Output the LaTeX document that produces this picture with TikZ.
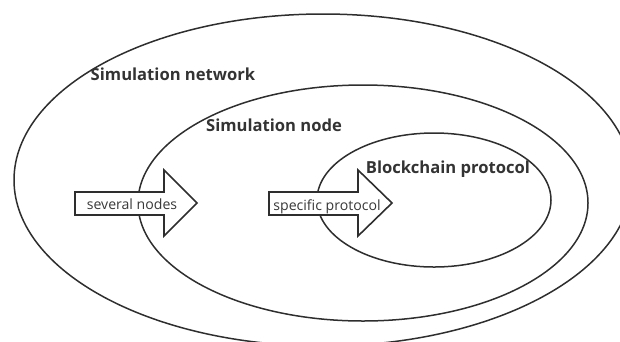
\documentclass[tikz,border=0pt]{standalone}
\usepackage{fontspec}
\setmainfont{Open Sans}
\begin{document}
\begin{tikzpicture}[x=1pt,y=-1pt,
  ring/.style={draw=black!82, line width=1.5pt},
  bigarrow/.style={draw=black!82, fill=white, line width=1.6pt, line join=miter},
  title/.style={font=\fontsize{16.6}{18}\selectfont\bfseries, text=black!80, inner sep=0pt, anchor=base},
  tag/.style={font=\fontsize{14.1}{16}\selectfont, text=black!78, inner sep=0pt, anchor=base}]
  \useasboundingbox (0,0) rectangle (620,341);
  \clip (0,0) rectangle (620,341);
  % nested scopes
  \draw[ring] (323,180) ellipse [x radius=309, y radius=166];
  \draw[ring] (363,203) ellipse [x radius=225, y radius=118];
  \draw[ring] (434,200) ellipse [x radius=117, y radius=67];
  % block arrows
  \draw[bigarrow] (75,192) -- (164,192) -- (164,170) -- (197,203) -- (164,236) -- (164,215) -- (75,215) -- cycle;
  \draw[bigarrow] (269,192) -- (358,192) -- (358,170) -- (392,203) -- (358,236) -- (358,215) -- (269,215) -- cycle;
  % labels
  \node[title] (net) at (173,80) {Simulation network};
  \node[title] (nod) at (274,131) {Simulation node};
  \node[title] (bcp) at (448,173) {Blockchain protocol};
  \node[tag] (sev) at (132,209) {several nodes};
  \node[tag] (spc) at (327,210) {specific protocol};
\end{tikzpicture}
\end{document}
